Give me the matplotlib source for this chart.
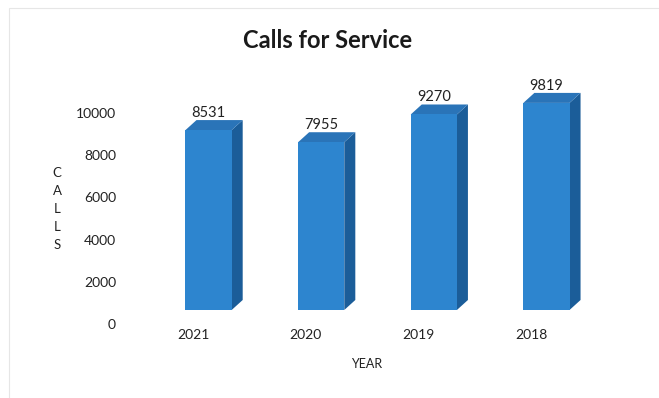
import matplotlib.pyplot as plt
import matplotlib.transforms as mtransforms
from matplotlib.patches import Polygon, Rectangle

years = ['2021', '2020', '2019', '2018']
calls = [8531, 7955, 9270, 9819]
y_ticks = [0, 2000, 4000, 6000, 8000, 10000]

front = '#2d85cf'
side = '#1b5d99'
top = '#2a74b8'

plt.rcParams['font.family'] = ['Lato', 'DejaVu Sans']

fig = plt.figure(figsize=(6.59, 3.98), dpi=100)
W, H = 659, 398
# axes placed in pixels: x from 141 to 614, 0 at y=310
ax = fig.add_axes([141 / W, 88 / H, 473 / W, 232 / H])

x = range(len(years))
bw = 0.41
ax.bar(x, calls, width=bw, color=front, zorder=3)

# fake 3D depth: up-right offset
dx = 0.098
dy = 474
for i, v in zip(x, calls):
    xl, xr = i - bw / 2, i + bw / 2
    ax.add_patch(Polygon([(xr, 0), (xr + dx, dy), (xr + dx, v + dy), (xr, v)],
                         closed=True, facecolor=side, edgecolor='none', zorder=2))
    ax.add_patch(Polygon([(xl, v), (xl + dx, v + dy), (xr + dx, v + dy), (xr, v)],
                         closed=True, facecolor=top, edgecolor='none', zorder=2))
    # faint floor shadow
    ax.plot([xl - 0.05, xr + dx + 0.05], [-80, -80], color='#dddddd', lw=1.2, zorder=1)
    ax.text(i, v + 820, str(v), ha='center', va='center', fontsize=10.5, color='#222222')

ax.set_xlim(-0.6, 3.6)
ax.set_ylim(0, 11000)
ax.set_xticks(list(x))
ax.set_xticklabels(years)
ax.set_yticks(y_ticks)
ax.tick_params(length=0, labelsize=10, labelcolor='#222222')
ax.tick_params(axis='y', pad=18)
ax.tick_params(axis='x', pad=14)
for s in ax.spines.values():
    s.set_visible(False)

# shift tick labels to match the perspective of the back wall
offy = mtransforms.ScaledTranslation(0, -10 / 72, fig.dpi_scale_trans)
for lab in ax.get_yticklabels():
    lab.set_transform(lab.get_transform() + offy)
offx = mtransforms.ScaledTranslation(-11 / 72, 0, fig.dpi_scale_trans)
for lab in ax.get_xticklabels():
    lab.set_transform(lab.get_transform() + offx)

fig.text(328 / W, 1 - 40 / H, 'Calls for Service', ha='center', va='center',
         fontsize=17, fontweight='bold', color='#1a1a1a')
fig.text(57 / W, 1 - 209 / H, 'C\nA\nL\nL\nS', ha='center', va='center',
         fontsize=9.5, linespacing=1.6, color='#222222')
fig.text(367 / W, 1 - 364 / H, 'YEAR', ha='center', va='center',
         fontsize=9, color='#222222')

fig.patches.append(Rectangle((9 / W, -0.1), 1.2, 1.1 - 8 / H, transform=fig.transFigure,
                             fill=False, edgecolor='#e6e6e6', lw=0.8))

fig.savefig('out.png', dpi=100)
